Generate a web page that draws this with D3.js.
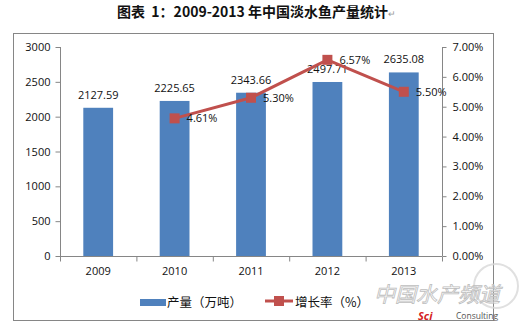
<!DOCTYPE html>
<html>
<head>
<meta charset="utf-8">
<script src="https://cdn.jsdelivr.net/npm/d3@7"></script>
<style>
  html, body { margin: 0; padding: 0; background: #fff; }
  svg { display: block; }
  text { font-family: "Open Sans", "Noto Sans CJK SC", sans-serif; }
</style>
</head>
<body>
<svg id="chart" width="523" height="323"></svg>
<script>
// Freshwater fish output in China, 2009-2013
const years = ["2009", "2010", "2011", "2012", "2013"];
const output = [2127.59, 2225.65, 2343.66, 2497.71, 2635.08];       // 万吨
const growth = [null, 4.61, 5.30, 6.57, 5.50];                      // %
const leftTicks = [0, 500, 1000, 1500, 2000, 2500, 3000];
const rightTicks = [0, 1, 2, 3, 4, 5, 6, 7];

const svg = d3.select("#chart");
const BLUE = "#4F81BD", RED = "#C0504D", AXIS = "#868686";
const cjk = '"Noto Sans CJK SC", sans-serif';

// Title
const title = svg.append("text")
  .attr("x", 117).attr("y", 17)
  .style("font-family", cjk)
  .style("font-size", "14px").style("font-weight", "bold")
  .attr("fill", "#111");
title.append("tspan").text("图表\u00a0\u00a01：2009-2013\u00a0年中国淡水鱼产量统计");
title.append("tspan").text("↵").style("font-size", "9px").style("font-weight", "normal").attr("fill", "#999");

// Chart frame
svg.append("rect").attr("x", 13.5).attr("y", 33.5).attr("width", 480).attr("height", 287)
  .attr("fill", "none").attr("stroke", AXIS).attr("stroke-width", 1);

const plot = { left: 60, right: 442, top: 47, bottom: 256 };

const x = d3.scaleBand().domain(years).range([plot.left, plot.right]).paddingInner(0).paddingOuter(0);
const yL = d3.scaleLinear().domain([0, 3000]).range([plot.bottom, plot.top]);
const yR = d3.scaleLinear().domain([0, 7]).range([plot.bottom, plot.top]);

// Bars
const barW = x.bandwidth() * 0.39;
svg.append("g").selectAll("rect").data(years).join("rect")
  .attr("x", d => x(d) + (x.bandwidth() - barW) / 2)
  .attr("y", (d, i) => yL(output[i]))
  .attr("width", barW)
  .attr("height", (d, i) => plot.bottom - yL(output[i]))
  .attr("fill", BLUE);

// Left axis
const gL = svg.append("g").attr("transform", `translate(${plot.left + 0.5},0)`)
  .call(d3.axisLeft(yL).tickValues(leftTicks).tickSize(5).tickPadding(5).tickFormat(d3.format("d")));
// Right axis
const gR = svg.append("g").attr("transform", `translate(${plot.right + 0.5},0)`)
  .call(d3.axisRight(yR).tickValues(rightTicks).tickSize(4).tickPadding(6).tickFormat(d => d.toFixed(2) + "%"));
// Category axis
const gX = svg.append("g").attr("transform", `translate(0,${plot.bottom + 0.5})`)
  .call(d3.axisBottom(x).tickSize(0).tickPadding(11));
gX.selectAll(".tick line").remove();
// category separators
const bounds = years.map(d => x(d)).concat([plot.right]);
gX.selectAll("line.sep").data(bounds).join("line").attr("class", "sep")
  .attr("x1", d => d + 0.5).attr("x2", d => d + 0.5).attr("y1", 0).attr("y2", 5)
  .attr("stroke", AXIS);

[gL, gR, gX].forEach(g => {
  g.selectAll(".domain").attr("stroke", AXIS);
  g.selectAll(".tick line").attr("stroke", AXIS);
  g.selectAll(".tick text").attr("fill", "#111").style("font-size", "11px");
});
gL.select(".domain").attr("d", `M0,${plot.top}V${plot.bottom}`);
gR.select(".domain").attr("d", `M0,${plot.top}V${plot.bottom}`);
gX.select(".domain").attr("d", `M${plot.left},0H${plot.right}`);

// Bar value labels
svg.append("g").selectAll("text").data(years).join("text")
  .attr("x", d => x(d) + x.bandwidth() / 2)
  .attr("y", (d, i) => yL(output[i]) - 9)
  .attr("text-anchor", "middle")
  .style("font-size", "11px").attr("fill", "#111")
  .text((d, i) => output[i].toFixed(2));

// Growth line
const pts = years.map((d, i) => ({ yr: d, v: growth[i] })).filter(p => p.v !== null);
const cx = d => x(d.yr) + x.bandwidth() / 2;
svg.append("path").datum(pts)
  .attr("d", d3.line().x(cx).y(d => yR(d.v)))
  .attr("fill", "none").attr("stroke", RED).attr("stroke-width", 3).attr("stroke-linejoin", "round");
svg.append("g").selectAll("rect").data(pts).join("rect")
  .attr("x", d => cx(d) - 5).attr("y", d => yR(d.v) - 5)
  .attr("width", 10).attr("height", 10).attr("fill", RED);
svg.append("g").selectAll("text").data(pts).join("text")
  .attr("x", d => cx(d) + 12).attr("y", d => yR(d.v) + 4)
  .style("font-size", "11px").attr("fill", "#111")
  .text(d => d.v.toFixed(2) + "%");

// Legend
const lg = svg.append("g");
lg.append("rect").attr("x", 140).attr("y", 299).attr("width", 26).attr("height", 7).attr("fill", BLUE);
lg.append("text").attr("x", 167).attr("y", 307).style("font-family", cjk).style("font-size", "12.5px")
  .attr("fill", "#111").text("产量（万吨）");
lg.append("line").attr("x1", 265).attr("x2", 293).attr("y1", 301).attr("y2", 301)
  .attr("stroke", RED).attr("stroke-width", 3);
lg.append("rect").attr("x", 274).attr("y", 296).attr("width", 10).attr("height", 10).attr("fill", RED);
lg.append("text").attr("x", 295).attr("y", 307).style("font-family", cjk).style("font-size", "12.5px")
  .attr("fill", "#111").text("增长率（%）");

// Site watermark
const wm = svg.append("g");
wm.append("circle").attr("cx", 496).attr("cy", 286).attr("r", 22)
  .attr("fill", "none").attr("stroke", "#d8d8d8").attr("stroke-width", 2).attr("opacity", 0.8);
wm.append("text").attr("x", 374).attr("y", 302)
  .style("font-family", cjk).style("font-size", "21px").style("font-style", "italic")
  .attr("fill", "rgba(255,255,255,0.55)").attr("stroke", "#bdbdbd").attr("stroke-width", 0.8)
  .text("中国水产频道");
wm.append("text").attr("x", 418).attr("y", 320)
  .style("font-size", "11px").style("font-weight", "bold").style("font-style", "italic")
  .attr("fill", "#d42020").text("Sci");
wm.append("text").attr("x", 456).attr("y", 319)
  .style("font-size", "8.5px").attr("fill", "#555").text("Consulting");
</script>
</body>
</html>
